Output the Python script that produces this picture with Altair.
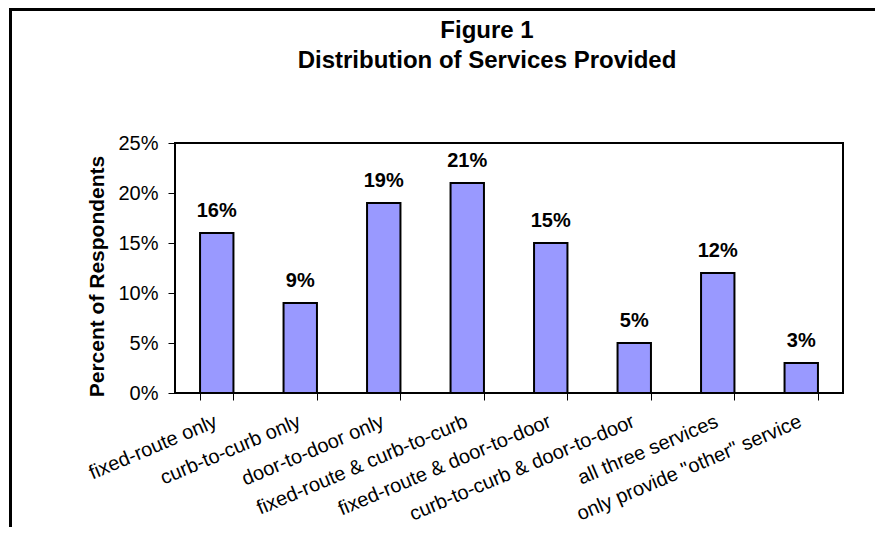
import altair as alt
import pandas as pd

categories = [
    "fixed-route only",
    "curb-to-curb only",
    "door-to-door only",
    "fixed-route & curb-to-curb",
    "fixed-route & door-to-door",
    "curb-to-curb & door-to-door",
    "all three services",
    'only provide "other" service',
]
percents = [0.16, 0.09, 0.19, 0.21, 0.15, 0.05, 0.12, 0.03]
y_ticks = [0, 0.05, 0.10, 0.15, 0.20, 0.25]
title_lines = ["Figure 1", "Distribution of Services Provided"]

df = pd.DataFrame({"service": categories, "pct": percents})
FONT = "Liberation Sans"

x_enc = alt.X(
    "service:N",
    sort=categories,
    scale=alt.Scale(paddingInner=0.6, paddingOuter=0.3),
    axis=alt.Axis(
        title=None,
        domain=False,
        tickBand="extent",
        tickSize=7,
        tickColor="black",
        labelAngle=337,
        labelAlign="right",
        labelBaseline="top",
        labelPadding=11,
        labelOffset=-5,
        labelFontSize=20,
        labelColor="black",
        labelFont=FONT,
        labelOverlap=False,
        labelLimit=0,
    ),
)
y_enc = alt.Y(
    "pct:Q",
    scale=alt.Scale(domain=[0, 0.25], nice=False),
    axis=alt.Axis(
        title="Percent of Respondents",
        values=y_ticks,
        format=".0%",
        domain=False,
        grid=False,
        tickSize=7,
        tickColor="black",
        labelPadding=10,
        labelFontSize=20,
        labelColor="black",
        labelFont=FONT,
        titleFont=FONT,
        titleFontSize=21,
        titleFontWeight="bold",
        titleColor="black",
        titleAngle=270,
        titleAlign="center",
        titleBaseline="alphabetic",
        titleX=-72,
        titleY=133,
    ),
)

base = alt.Chart(df)
bars = base.mark_bar(color="#9999FF", stroke="black", strokeWidth=2).encode(x=x_enc, y=y_enc)
labels = base.mark_text(
    dy=-16, baseline="alphabetic", fontSize=20, fontWeight="bold", font=FONT, color="black"
).encode(x=alt.X("service:N", sort=categories), y="pct:Q", text=alt.Text("pct:Q", format=".0%"))

frame = alt.Chart(pd.DataFrame({"f": [0]})).mark_rect(
    fill="transparent", stroke="black", strokeWidth=3, clip=False
).encode(
    x=alt.value(-164.5), x2=alt.value(790), y=alt.value(-133.5), y2=alt.value(460)
)

chart = alt.layer(bars, labels, frame).properties(
    width=668,
    height=250,
    padding={"left": 167, "top": 135, "right": 32, "bottom": 134},
    autosize=alt.AutoSizeParams(type="none"),
    title=alt.TitleParams(
        text=title_lines,
        fontSize=24,
        fontWeight="bold",
        font=FONT,
        color="black",
        lineHeight=30,
        anchor="middle",
        frame="group",
        dx=-22,
        offset=-65,
    ),
).configure(background="white").configure_view(stroke="black", strokeWidth=2)

chart.save("out.html", embed_options={"renderer": "svg", "actions": False})
